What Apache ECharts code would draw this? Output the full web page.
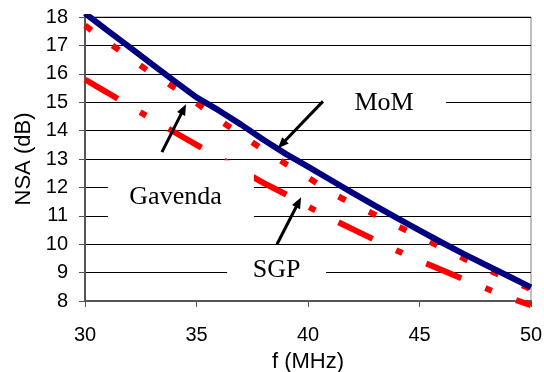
<!DOCTYPE html>
<html>
<head>
<meta charset="utf-8">
<script src="https://cdn.jsdelivr.net/npm/echarts/dist/echarts.min.js"></script>
<style>
html,body{margin:0;padding:0;background:#fff;}
#chart{width:544px;height:372px;}
</style>
</head>
<body>
<div id="chart"></div>
<script>
// ---- data ----
const freqMHz = [30,31,32,33,34,35,36,37,38,39,40,41,42,43,44,45,46,47,48,49,50];
const nsaMoM = [18.13,17.53,16.94,16.34,15.75,15.17,14.71,14.21,13.68,13.18,12.73,12.27,11.81,11.36,10.92,10.49,10.06,9.65,9.26,8.87,8.48];
const nsaGavenda = [17.70,17.13,16.56,16.01,15.52,14.97,14.38,13.85,13.32,12.83,12.35,11.83,11.42,11.04,10.64,10.27,9.88,9.49,9.12,8.78,8.41];
const nsaSGP = [15.80,15.34,14.87,14.41,13.95,13.50,13.05,12.61,12.16,11.76,11.33,10.91,10.53,10.15,9.77,9.42,9.09,8.76,8.44,8.12,7.85];
const xTickLabels = [30,35,40,45,50];
const yTickLabels = [8,9,10,11,12,13,14,15,16,17,18];
const xTitle = 'f (MHz)';
const yTitle = 'NSA (dB)';

// annotations (text boxes + arrows), in data coordinates
const noteText = ['MoM','Gavenda','SGP'];
const noteCenter = [[43.41,14.96],[34.06,11.65],[38.59,9.08]];
const boxCenter = [[43.41,14.96],[34.30,11.65],[38.59,9.08]];
const arrowFrom = [[40.67,15.03],[33.45,13.24],[38.61,10.00]];
const arrowTo = [[38.65,13.38],[34.53,14.93],[39.69,11.65]];

// styles / sizes (pixels)
const noteBox = [[124,42],[146,74],[99,44]];

const pair = (xs, ys) => xs.map((x, i) => [x, ys[i]]);

const chart = echarts.init(document.getElementById('chart'), null, {renderer: 'canvas'});

const axisFont = '"Liberation Sans", Arial, sans-serif';

chart.setOption({
  animation: false,
  backgroundColor: '#fff',
  grid: {left: 85, right: 13, top: 17, bottom: 71, containLabel: false, outerBoundsMode: 'none',
    show: true, borderColor: '#808080', borderWidth: 1, backgroundColor: 'transparent'},
  xAxis: {
    type: 'value', min: xTickLabels[0], max: xTickLabels[xTickLabels.length - 1], interval: 5,
    name: xTitle, nameLocation: 'middle', nameGap: 50,
    nameTextStyle: {fontFamily: axisFont, fontSize: 22, color: '#000'},
    axisLine: {show: true, onZero: false, lineStyle: {color: '#555', width: 2}},
    axisTick: {show: true, inside: false, length: 6, lineStyle: {color: '#555', width: 1}},
    axisLabel: {fontFamily: axisFont, fontSize: 20, color: '#000', margin: 24},
    splitLine: {show: false}
  },
  yAxis: {
    type: 'value', min: yTickLabels[0], max: yTickLabels[yTickLabels.length - 1], interval: 1,
    name: yTitle, nameLocation: 'middle', nameGap: 50, nameRotate: 90,
    nameTextStyle: {fontFamily: axisFont, fontSize: 22, color: '#000'},
    axisLine: {show: true, onZero: false, lineStyle: {color: '#555', width: 2}},
    axisTick: {show: true, inside: false, length: 6, lineStyle: {color: '#555', width: 1}},
    axisLabel: {fontFamily: axisFont, fontSize: 20, color: '#000', margin: 17},
    splitLine: {show: true, lineStyle: {color: '#000', width: 1}}
  },
  series: [
    {
      name: 'SGP', type: 'line', data: pair(freqMHz, nsaSGP), symbol: 'none', clip: false,
      lineStyle: {color: '#ff0000', width: 6, type: [38, 26, 7, 26], cap: 'butt'}, z: 3
    },
    {
      name: 'Gavenda', type: 'line', data: pair(freqMHz, nsaGavenda), symbol: 'none',
      lineStyle: {color: '#ff0000', width: 6, type: [8, 26], cap: 'butt'}, z: 3
    },
    {
      name: 'MoM', type: 'line', data: pair(freqMHz, nsaMoM), symbol: 'none',
      lineStyle: {color: '#000080', width: 6}, z: 4
    }
  ]
});

function drawNotes() {
  const els = [];
  const toPx = p => chart.convertToPixel({gridIndex: 0}, p);
  noteText.forEach((t, i) => {
    const c = toPx(noteCenter[i]);
    const bc = toPx(boxCenter[i]);
    const w = noteBox[i][0], h = noteBox[i][1];
    els.push({type: 'rect', z: 100, shape: {x: bc[0] - w / 2, y: bc[1] - h / 2, width: w, height: h}, style: {fill: '#fff'}});
    els.push({type: 'text', z: 101, x: c[0], y: c[1],
      style: {text: t, fill: '#000', font: '26px "Liberation Serif", "Times New Roman", serif', align: 'center', verticalAlign: 'middle'}});
    const a = toPx(arrowFrom[i]), b = toPx(arrowTo[i]);
    const dx = b[0] - a[0], dy = b[1] - a[1];
    const len = Math.sqrt(dx * dx + dy * dy);
    const ux = dx / len, uy = dy / len;
    const headL = 11, headW = 4.5;
    const bx = b[0] - ux * headL, by = b[1] - uy * headL;
    els.push({type: 'line', z: 102, shape: {x1: a[0], y1: a[1], x2: bx + ux * 1, y2: by + uy * 1},
      style: {stroke: '#000', lineWidth: 3}});
    els.push({type: 'polygon', z: 102, shape: {points: [
      [b[0], b[1]], [bx - uy * headW, by + ux * headW], [bx + uy * headW, by - ux * headW]
    ]}, style: {fill: '#000'}});
  });
  chart.setOption({graphic: {elements: els}});
}
drawNotes();
</script>
</body>
</html>
